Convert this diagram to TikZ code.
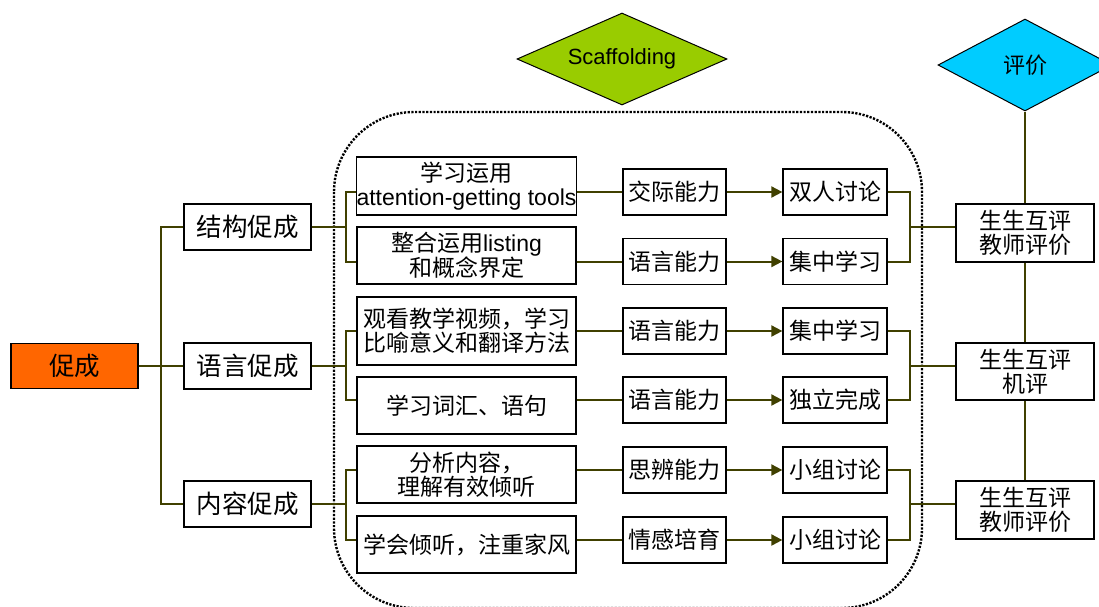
\documentclass[tikz,border=0pt]{standalone}
\usepackage{fontspec}
\setmainfont{Liberation Sans}
\newfontfamily\cjk{Noto Sans CJK SC}
\newfontfamily\latin{Liberation Sans}
\usetikzlibrary{shapes.geometric,arrows.meta}
\definecolor{linkcol}{RGB}{64,64,0}
\definecolor{rootfill}{RGB}{255,102,0}
\definecolor{scaffill}{RGB}{153,204,0}
\definecolor{evalfill}{RGB}{0,204,255}

\begin{document}
\begin{tikzpicture}[x=1pt,y=-1pt,
  box/.style={draw=black, line width=1.3pt, fill=white, inner sep=0pt, align=center,
    font=\cjk\fontsize{23}{24}\selectfont},
  bigbox/.style={box, minimum width=127pt, minimum height=46pt,
    font=\cjk\fontsize{25.5}{27}\selectfont},
  actbox/.style={box, minimum width=219pt},
  skillbox/.style={box, minimum width=103pt, minimum height=46pt},
  modebox/.style={box, minimum width=104pt, minimum height=46pt},
  evalbox/.style={box, minimum width=138pt},
  tag/.style={diamond, draw=black, line width=1pt, inner sep=0pt, shape aspect=2.2},
  link/.style={draw=linkcol, line width=2pt},
  flow/.style={link, -{Triangle[length=11pt,width=11pt]}},
  frame/.style={draw=black, line width=2.4pt, dash pattern=on 2.2pt off 1.5pt, rounded corners=80pt},
]
\useasboundingbox (0,0) rectangle (1099,606);

% dotted scaffolding frame
\draw[frame] (334,112) rectangle (922,608);

% headers
\node[tag, fill=scaffill, minimum width=210pt, minimum height=92pt,
      font=\latin\fontsize{22}{24}\selectfont] (sc) at (622,59) {Scaffolding};
\node[tag, fill=evalfill, minimum width=174pt, minimum height=92pt,
      font=\cjk\fontsize{22}{24}\selectfont] (ev) at (1025,65) {评价};

% root and first level
\node[bigbox, fill=rootfill, minimum height=45pt] (root) at (74.5,366) {促成};
\node[bigbox] (s1) at (247.5,227) {结构促成};
\node[bigbox] (s2) at (247.5,366) {语言促成};
\node[bigbox] (s3) at (247.5,504) {内容促成};

% activities
\node[actbox, minimum height=58pt] (a1) at (466.5,186) {学习运用\\{\latin attention-getting tools}};
\node[actbox, minimum height=57pt] (a2) at (466.5,255.5) {整合运用{\latin listing}\\和概念界定};
\node[actbox, minimum height=68pt] (a3) at (466.5,331) {观看教学视频，学习\\比喻意义和翻译方法};
\node[actbox, minimum height=57pt] (a4) at (466.5,405.5) {学习词汇、语句};
\node[actbox, minimum height=57pt] (a5) at (466.5,474.5) {分析内容，\\理解有效倾听};
\node[actbox, minimum height=57pt] (a6) at (466.5,544.5) {学会倾听，注重家风};

% abilities
\node[skillbox] (k1) at (674.5,192) {交际能力};
\node[skillbox] (k2) at (674.5,261.5) {语言能力};
\node[skillbox] (k3) at (674.5,331) {语言能力};
\node[skillbox] (k4) at (674.5,400) {语言能力};
\node[skillbox] (k5) at (674.5,470) {思辨能力};
\node[skillbox] (k6) at (674.5,540) {情感培育};

% learning modes
\node[modebox] (m1) at (835,192) {双人讨论};
\node[modebox] (m2) at (835,261.5) {集中学习};
\node[modebox] (m3) at (835,331) {集中学习};
\node[modebox] (m4) at (835,400) {独立完成};
\node[modebox] (m5) at (835,470) {小组讨论};
\node[modebox] (m6) at (835,540) {小组讨论};

% evaluation
\node[evalbox, minimum height=58pt] (e1) at (1025,233) {生生互评\\教师评价};
\node[evalbox, minimum height=57pt] (e2) at (1025,371.5) {生生互评\\机评};
\node[evalbox, minimum height=58pt] (e3) at (1025,510) {生生互评\\教师评价};

% bracket junctions
\coordinate (tr) at (161,366);
\coordinate (lb1) at (346,227);
\coordinate (lb2) at (346,366);
\coordinate (lb3) at (346,504);
\coordinate (rb1) at (910,227);
\coordinate (rb2) at (910,366);
\coordinate (rb3) at (910,504);

% tree connectors
\draw[link] (root.east) -- (s2.west);
\draw[link] (s1.west) -| (tr) |- (s3.west);

\draw[link] (s1.east) -- (lb1);
\draw[link] (s2.east) -- (lb2);
\draw[link] (s3.east) -- (lb3);
\draw[link] (a1.west |- k1) -| (lb1) |- (a2.west |- k2);
\draw[link] (a3.west |- k3) -| (lb2) |- (a4.west |- k4);
\draw[link] (a5.west |- k5) -| (lb3) |- (a6.west |- k6);

\foreach \i in {1,...,6}{
  \draw[link] (a\i.east |- k\i) -- (k\i.west);
  \draw[flow] (k\i.east) -- (m\i.west);
}

\draw[link] (m1.east) -| (rb1) |- (m2.east);
\draw[link] (m3.east) -| (rb2) |- (m4.east);
\draw[link] (m5.east) -| (rb3) |- (m6.east);
\draw[link] (rb1) -- (e1.west |- rb1);
\draw[link] (rb2) -- (e2.west |- rb2);
\draw[link] (rb3) -- (e3.west |- rb3);

\draw[link] (ev.south) -- (e1.north);
\draw[link] (e1.south) -- (e2.north);
\draw[link] (e2.south) -- (e3.north);
\end{tikzpicture}
\end{document}
